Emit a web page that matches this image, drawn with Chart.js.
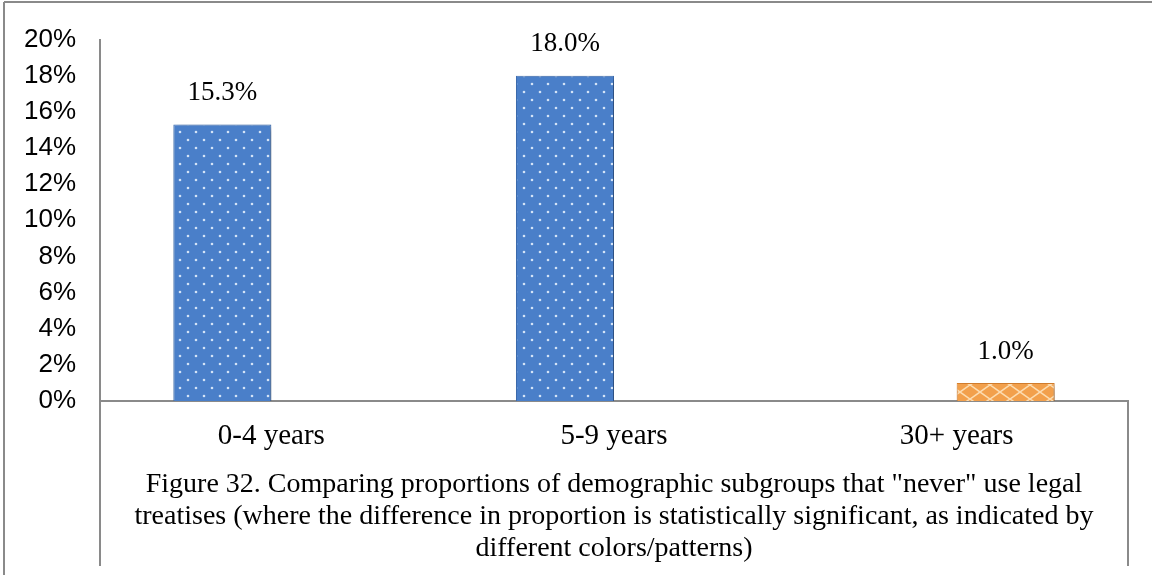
<!DOCTYPE html>
<html>
<head>
<meta charset="utf-8">
<script src="https://cdn.jsdelivr.net/npm/chart.js@4.4.1/dist/chart.umd.min.js"></script>
<style>
  html, body { margin: 0; padding: 0; background: #fff; }
  #wrap { width: 1152px; height: 575px; }
</style>
</head>
<body>
<div id="wrap"><canvas id="barChart" width="1152" height="575"></canvas></div>
<script>
// values
var categories = ["0-4 years", "5-9 years", "30+ years"];
var blueValues = [15.3, 18.0, null];   // not significantly different
var orangeValues = [null, null, 1.0];  // significantly different
var yMin = 0, yMax = 20, yStep = 2;
var captionLines = [
    'Figure 32. Comparing proportions of demographic subgroups that "never" use legal',
    'treatises (where the difference in proportion is statistically significant, as indicated by',
    'different colors/patterns)'
];

var serif = "'Liberation Serif', 'Times New Roman', serif";
var sans = "'Liberation Sans', Arial, sans-serif";

function dotPattern() {
    var c = document.createElement('canvas');
    c.width = 16; c.height = 16;
    var g = c.getContext('2d');
    g.fillStyle = '#4a7fc9';
    g.fillRect(0, 0, 16, 16);
    g.fillStyle = '#d4e3f7';
    [[4, 4], [12, 12]].forEach(function(p) {
        g.beginPath();
        g.arc(p[0], p[1], 1.3, 0, Math.PI * 2);
        g.fill();
    });
    return g.createPattern(c, 'repeat');
}

function latticePattern() {
    var c = document.createElement('canvas');
    c.width = 20; c.height = 14;
    var g = c.getContext('2d');
    g.fillStyle = '#f2a04c';
    g.fillRect(0, 0, 20, 14);
    g.strokeStyle = '#fcdcb0';
    g.lineWidth = 1.5;
    g.beginPath();
    g.moveTo(0, 0); g.lineTo(10, 7); g.lineTo(20, 0);
    g.moveTo(0, 14); g.lineTo(10, 7); g.lineTo(20, 14);
    g.stroke();
    return g.createPattern(c, 'repeat');
}

// shadow under bars, value labels above them, and the frame lines
var decorations = {
    id: 'decorations',
    beforeDatasetsDraw: function(chart) {
        var ctx = chart.ctx;
        ctx.save();
        ctx.shadowColor = 'rgba(0,0,0,0.35)';
        ctx.shadowBlur = 6;
        ctx.shadowOffsetX = 3;
        ctx.shadowOffsetY = 3;
    },
    afterDatasetsDraw: function(chart) {
        var ctx = chart.ctx;
        ctx.restore();
        ctx.save();
        ctx.fillStyle = '#000';
        ctx.font = '27px ' + serif;
        ctx.textAlign = 'center';
        ctx.textBaseline = 'bottom';
        chart.data.datasets.forEach(function(ds, i) {
            var meta = chart.getDatasetMeta(i);
            meta.data.forEach(function(bar, j) {
                if (ds.data[j] == null) return;
                ctx.fillText(ds.data[j].toFixed(1) + '%', bar.x, bar.y - 18);
            });
        });
        ctx.restore();
    },
    afterDraw: function(chart) {
        var ctx = chart.ctx;
        var a = chart.chartArea;
        ctx.save();
        ctx.strokeStyle = '#8a8a8a';
        ctx.lineWidth = 2;
        ctx.beginPath();
        ctx.moveTo(4, 2); ctx.lineTo(1152, 2);
        ctx.moveTo(4, 2); ctx.lineTo(4, 575);
        ctx.moveTo(a.left, a.bottom); ctx.lineTo(a.left, 566);
        ctx.moveTo(a.right, a.bottom); ctx.lineTo(a.right, 566);
        ctx.stroke();
        ctx.restore();
    }
};

var barData = {
    labels: categories,
    datasets: [{
        label: "Same",
        data: blueValues,
        backgroundColor: dotPattern(),
        borderColor: '#3f6fb3',
        borderWidth: 1,
        categoryPercentage: 0.572,
        barPercentage: 1.0
    }, {
        label: "Different",
        data: orangeValues,
        backgroundColor: latticePattern(),
        borderColor: '#d9822f',
        borderWidth: 1,
        categoryPercentage: 0.572,
        barPercentage: 1.0
    }]
};

var barOptions = {
    responsive: false,
    animation: false,
    layout: { padding: { top: 34, right: 24, left: 0, bottom: 0 } },
    plugins: {
        legend: { display: false },
        tooltip: { enabled: false },
        title: {
            display: true,
            position: 'bottom',
            fullSize: false,
            text: captionLines,
            color: '#000',
            font: { family: serif, size: 28, weight: 'normal', lineHeight: 32 / 28 },
            padding: { top: 0, bottom: 10 }
        }
    },
    scales: {
        x: {
            grid: { display: false, drawTicks: false },
            border: { display: true, color: '#8a8a8a', width: 2 },
            ticks: { color: '#000', font: { family: serif, size: 29 }, padding: 18 },
            afterFit: function(scale) { scale.height = 68; }
        },
        y: {
            min: yMin,
            max: yMax,
            grid: { display: false, drawTicks: false },
            border: { display: true, color: '#8a8a8a', width: 2 },
            ticks: {
                stepSize: yStep,
                color: '#000',
                font: { family: sans, size: 26 },
                padding: 24,
                callback: function(v) { return v + '%'; }
            },
            afterFit: function(scale) { scale.width = 100; }
        }
    }
};

var ctx = document.getElementById("barChart").getContext("2d");
new Chart(ctx, { type: 'bar', data: barData, options: barOptions, plugins: [decorations] });
</script>
</body>
</html>
